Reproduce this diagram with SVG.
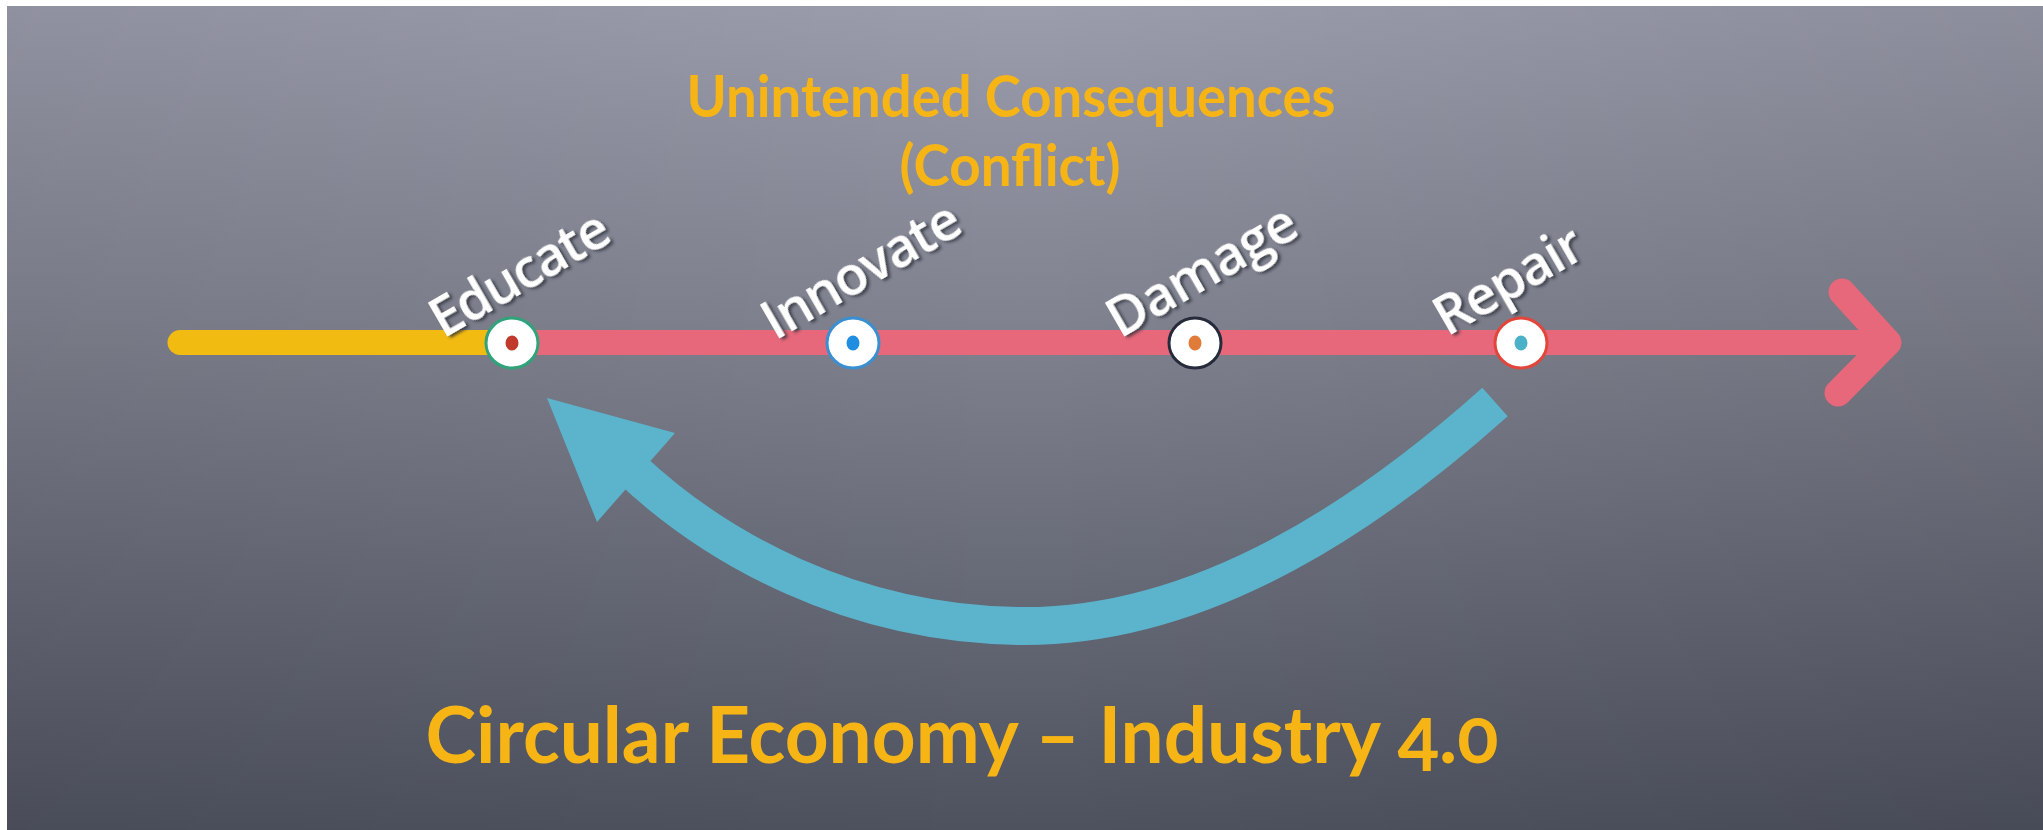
<svg xmlns="http://www.w3.org/2000/svg" width="2043" height="830" viewBox="0 0 2043 830">
  <defs>
    <linearGradient id="bgV" x1="0" y1="0" x2="0" y2="1">
      <stop offset="0" stop-color="#9b9cac"/>
      <stop offset="0.41" stop-color="#7e808d"/>
      <stop offset="1" stop-color="#4e525f"/>
    </linearGradient>
    <linearGradient id="bgH" x1="0" y1="0" x2="1" y2="0">
      <stop offset="0" stop-color="#000" stop-opacity="0.07"/>
      <stop offset="0.5" stop-color="#000" stop-opacity="0"/>
      <stop offset="1" stop-color="#000" stop-opacity="0.09"/>
    </linearGradient>
    <filter id="shadow" x="-20%" y="-40%" width="140%" height="180%">
      <feDropShadow dx="2" dy="3" stdDeviation="1.6" flood-color="#2a2d38" flood-opacity="0.75"/>
    </filter>
  </defs>
  <style>
    .title { font-family: "Lato", "Open Sans", "Liberation Sans", sans-serif; font-weight: 700; fill: #f7b515; text-anchor: middle; font-variant-numeric: oldstyle-nums; }
    .label { font-family: "Open Sans", "Noto Sans", "Liberation Sans", sans-serif; font-weight: 600; font-size: 54px; fill: #ffffff; filter: url(#shadow); }
    .ring { fill: #ffffff; stroke-width: 3; }
    .line { fill: none; stroke-width: 25; }
  </style>

  <rect x="0" y="0" width="2043" height="830" fill="#ffffff"/>
  <rect x="7" y="6" width="2036" height="824" fill="url(#bgV)"/>
  <rect x="7" y="6" width="2036" height="824" fill="url(#bgH)"/>

  <g id="titles">
    <text class="title" x="1011" y="117" font-size="57" textLength="649" lengthAdjust="spacingAndGlyphs">Unintended Consequences</text>
    <text class="title" x="1010" y="186" font-size="57" textLength="221" lengthAdjust="spacingAndGlyphs">(Conflict)</text>
    <text class="title" x="962" y="763" font-size="78" textLength="1073" lengthAdjust="spacingAndGlyphs">Circular Economy – Industry 4.0</text>
  </g>

  <g id="connectors">
    <line class="line" x1="180" y1="342.5" x2="512" y2="342.5" stroke="#f2bb12" stroke-linecap="round"/>
    <line class="line" x1="512" y1="342.5" x2="1888" y2="342.5" stroke="#e6687a"/>
    <polyline points="1842,292 1888,342.5 1838,393" fill="none" stroke="#e6687a" stroke-width="27" stroke-linecap="round" stroke-linejoin="round"/>
    <g id="loop-arrow">
      <path d="M1495,402 C1380,505 1210,628 1020,626 C850,624 715,548 630,468" fill="none" stroke="#5bb4cc" stroke-width="38"/>
      <polygon points="547,398 675,433 597,522" fill="#5bb4cc"/>
    </g>
  </g>

  <g id="node-educate">
    <ellipse class="ring" cx="512" cy="343" rx="26" ry="25" stroke="#2fa37a"/>
    <ellipse cx="512" cy="343" rx="6.5" ry="7.5" fill="#c0392b"/>
    <text class="label" transform="translate(443,339) rotate(-30)" textLength="198">Educate</text>
  </g>
  <g id="node-innovate">
    <ellipse class="ring" cx="853" cy="343" rx="26" ry="25" stroke="#3a8fd0"/>
    <ellipse cx="853" cy="343" rx="6.5" ry="7.5" fill="#1f8ee0"/>
    <text class="label" transform="translate(775,341) rotate(-30)" textLength="220">Innovate</text>
  </g>
  <g id="node-damage">
    <ellipse class="ring" cx="1195" cy="343" rx="26" ry="25" stroke="#262b3b"/>
    <ellipse cx="1195" cy="343" rx="6.5" ry="7.5" fill="#e07b39"/>
    <text class="label" transform="translate(1120,339) rotate(-30)" textLength="210">Damage</text>
  </g>
  <g id="node-repair">
    <ellipse class="ring" cx="1521" cy="343" rx="26" ry="25" stroke="#e2453a"/>
    <ellipse cx="1521" cy="343" rx="6.5" ry="7.5" fill="#4bb1c8"/>
    <text class="label" transform="translate(1447,337) rotate(-30)" textLength="163">Repair</text>
  </g>
</svg>
